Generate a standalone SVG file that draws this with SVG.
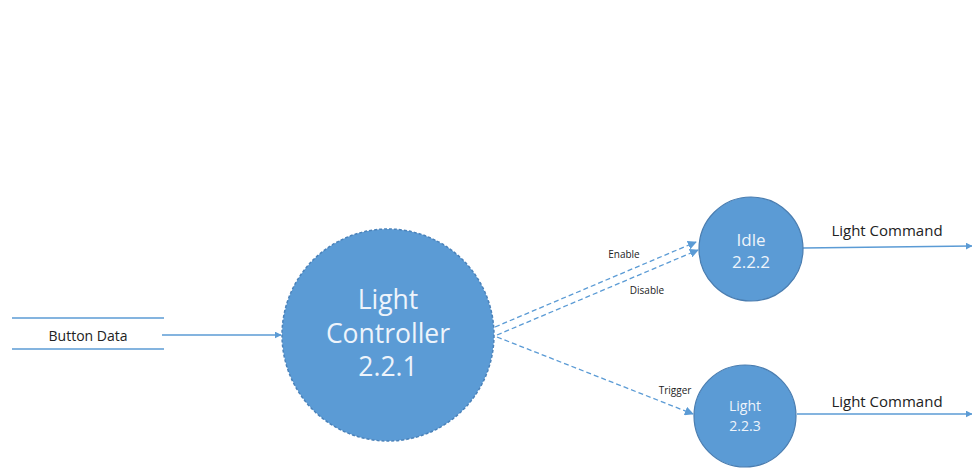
<svg xmlns="http://www.w3.org/2000/svg" width="972" height="468" viewBox="0 0 972 468">
<style>
.node{fill:#5B9BD5}
.big{stroke:#4A82BA;stroke-width:1.5;stroke-dasharray:3 2}
.small{stroke:#4A7DB0;stroke-width:1.2}
.nt{font-family:"Open Sans","Noto Sans",sans-serif;fill:#EEF4FB;text-anchor:middle}
.lbl{font-family:"Open Sans","Noto Sans",sans-serif;fill:#222;text-anchor:middle}
.flow{stroke:#5B9BD5;stroke-width:1.3;fill:none}
.dash{stroke:#5B9BD5;stroke-width:1.3;fill:none;stroke-dasharray:5 3}
</style>
<defs>
<marker id="ah" viewBox="0 0 10 10" refX="9" refY="5" markerWidth="7" markerHeight="7" orient="auto" markerUnits="userSpaceOnUse">
<path d="M0,0 L10,5 L0,10 z" fill="#5B9BD5"/>
</marker>
<marker id="ahd" viewBox="0 0 10 10" refX="9" refY="5" markerWidth="9" markerHeight="9" orient="auto" markerUnits="userSpaceOnUse">
<path d="M0,0 L10,5 L0,10 z" fill="#5B9BD5"/>
</marker>
</defs>
<rect width="972" height="468" fill="#FFFFFF"/>
<g id="store-button-data">
<line x1="12" y1="318" x2="164" y2="318" stroke="#5B9BD5" stroke-width="1.3"/>
<line x1="12" y1="349" x2="164" y2="349" stroke="#5B9BD5" stroke-width="1.3"/>
<text class="lbl" x="88" y="341" font-size="14">Button Data</text>
</g>
<g id="connectors">
<line class="flow" x1="162" y1="335" x2="281" y2="335" marker-end="url(#ah)"/>
<line class="dash" x1="495" y1="327" x2="696" y2="242" marker-end="url(#ahd)"/>
<line class="dash" x1="497" y1="335" x2="698" y2="250" marker-end="url(#ahd)"/>
<line class="dash" x1="497" y1="337" x2="693" y2="414" marker-end="url(#ahd)"/>
<line class="flow" x1="803" y1="248" x2="972" y2="246" marker-end="url(#ah)"/>
<line class="flow" x1="797" y1="414" x2="972" y2="414" marker-end="url(#ah)"/>
<text class="lbl" x="624" y="258" font-size="10">Enable</text>
<text class="lbl" x="647" y="294" font-size="10">Disable</text>
<text class="lbl" x="675" y="394" font-size="10">Trigger</text>
<text class="lbl" x="887" y="236" font-size="15">Light Command</text>
<text class="lbl" x="887" y="407" font-size="15">Light Command</text>
</g>
<g id="light-controller">
<circle class="node big" cx="388" cy="335" r="106"/>
<text class="nt" x="388" y="309" font-size="26.5">Light</text>
<text class="nt" x="388" y="343" font-size="26.5">Controller</text>
<text class="nt" x="388" y="376" font-size="26.5">2.2.1</text>
</g>
<g id="idle">
<circle class="node small" cx="751" cy="249" r="52"/>
<text class="nt" x="751" y="246" font-size="17">Idle</text>
<text class="nt" x="751" y="268" font-size="17">2.2.2</text>
</g>
<g id="light">
<circle class="node small" cx="745" cy="416" r="51"/>
<text class="nt" x="745" y="411" font-size="14">Light</text>
<text class="nt" x="745" y="431" font-size="14">2.2.3</text>
</g>
</svg>
